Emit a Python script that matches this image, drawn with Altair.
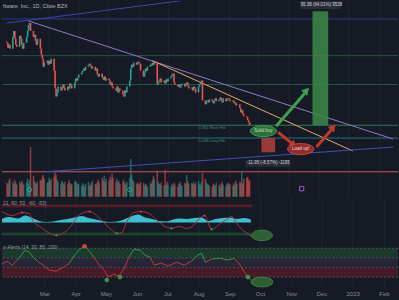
import altair as alt
import pandas as pd

# ---------------- data ----------------
TITLE = "ftware, Inc., 1D, Cboe BZX"
OSC_LABEL = "21, 60, 53, -60, -53)"
RSI_LABEL = "n-Alerts (14, 30, 80, 100)"

close_jan = [217.8, 213.7, 216.2, 212.9, 222.8, 227.8, 221.2, 216.2, 214.5, 223.7]
close_feb = [221.2, 216.2, 212.9, 217.8, 222.8, 227.8, 232.8, 234.4, 227.8, 222.8,
             224.5, 219.5, 216.2, 221.2, 212.9, 207.9, 204.6, 197.9, 201.2, 202.9]
close_mar = [199.6, 202.9, 200.4, 204.6, 194.6, 179.7, 173.0, 176.3, 181.3, 178.0,
             179.7, 183.0, 180.5, 178.0, 181.3, 179.7, 183.8, 182.2, 179.7, 184.7,
             188.0, 186.3, 188.8]
close_apr = [191.3, 192.9, 194.6, 196.3, 194.6, 197.9, 199.6, 200.4, 198.8, 196.3,
             197.9, 194.6, 196.3, 191.3, 189.6, 192.1, 188.8, 187.1, 189.6, 186.3, 188.0]
close_may = [186.3, 183.0, 184.7, 181.3, 179.7, 178.0, 181.3, 176.3, 179.7, 178.0,
             174.7, 173.0, 178.0, 176.3, 181.3, 186.3, 196.3, 199.6, 197.9, 201.2,
             199.6, 202.1]
close_jun = [201.2, 200.4, 194.6, 189.6, 192.9, 196.3, 194.6, 197.9, 199.6, 198.8,
             201.2, 199.6, 202.1, 183.0, 184.7, 186.3, 188.0, 184.7, 186.3, 183.8,
             187.1, 185.5]
close_jul = [188.0, 189.6, 191.3, 192.1, 184.7, 183.0, 181.3, 183.0, 180.5, 182.2,
             183.8, 181.3, 183.0, 184.7, 182.2, 179.7, 180.5, 178.0, 181.3, 179.7, 176.3]
close_aug = [181.3, 183.0, 184.7, 186.3, 169.7, 166.4, 168.9, 169.7, 168.0, 170.5,
             168.9, 167.2, 169.7, 171.4, 168.9, 170.5, 172.2, 169.7, 168.0, 171.4,
             168.9, 170.5, 171.4]
close_sep = [170.5, 168.9, 169.7, 167.2, 168.0, 165.6, 166.4, 163.1, 159.7, 161.4,
             158.1, 156.4, 155.6, 153.1, 151.4, 148.9]
first_open = 219.0

vol_jan = [1.4, 1.2, 1.6, 1.8, 1.5, 1.3, 1.7, 1.4, 1.2, 1.5]
vol_feb = [1.3, 1.6, 1.4, 1.2, 1.5, 1.8, 1.3, 1.7, 5.0, 2.1, 1.6, 1.4, 1.3, 1.5, 1.7,
           1.6, 2.0, 2.2, 1.8, 1.4]
vol_mar = [1.5, 1.9, 1.6, 1.8, 2.0, 2.4, 2.2, 1.7, 1.5, 1.3, 1.6, 1.4, 1.2, 1.5, 1.3,
           1.7, 1.4, 1.2, 1.3, 1.5, 1.6, 1.4, 1.2]
vol_apr = [1.3, 1.1, 1.4, 1.2, 1.0, 1.3, 1.5, 1.2, 1.1, 1.4, 1.6, 1.3, 1.2, 1.5, 1.7,
           1.4, 1.9, 1.6, 2.1, 1.5, 1.8]
vol_may = [1.6, 2.0, 1.7, 2.3, 1.9, 1.5, 1.8, 1.4, 1.6, 1.3, 1.5, 1.7, 1.4, 1.2, 1.5,
           1.9, 3.8, 2.2, 1.7, 1.5, 1.3, 1.4]
vol_jun = [1.3, 1.2, 1.5, 1.4, 1.1, 1.3, 1.2, 1.0, 1.4, 1.3, 1.6, 2.1, 1.8, 2.6, 1.5,
           1.3, 1.2, 1.4, 1.1, 2.7, 1.2, 1.5]
vol_jul = [1.2, 1.0, 1.3, 1.1, 1.4, 1.2, 1.0, 1.3, 1.5, 1.2, 1.1, 1.4, 1.3, 2.2, 1.6,
           1.3, 1.4, 1.3, 1.5, 1.2, 1.4]
vol_aug = [1.6, 1.3, 1.2, 1.5, 2.4, 1.8, 1.4, 1.3, 1.2, 1.1, 1.0, 1.3, 1.2, 1.1, 1.4,
           1.2, 1.0, 1.3, 1.5, 1.2, 1.1, 1.3, 1.4]
vol_sep = [1.2, 1.3, 1.1, 1.4, 1.2, 1.6, 1.3, 1.5, 1.4, 2.5, 1.3, 1.8, 1.9, 2.0, 1.6, 1.7]

level_prices = [237.8, 207.1, 183.0, 148.9, 138.2, 110.0]
level_colors = ["#2b3a8f", "#1f5a45", "#1f5a45", "#2a7d5c", "#1f7385", "#c85a5f"]

trend_start_dates = ["2022-01-18", "2022-02-09", "2022-06-15", "2022-02-26"]
trend_end_dates = ["2022-08-03", "2023-02-15", "2023-01-05", "2023-02-15"]
trend_start_prices = [234.4, 236.1, 202.9, 110.0]
trend_end_prices = [255.1, 137.4, 127.4, 130.7]
trend_colors = ["#3949ab", "#8e7cc3", "#e8a868", "#3f51b5"]

wave_dates = ["2022-01-18", "2022-01-28", "2022-02-07", "2022-02-14", "2022-02-18",
              "2022-02-26", "2022-03-06", "2022-03-13", "2022-03-21", "2022-03-28",
              "2022-04-03", "2022-04-09", "2022-04-15", "2022-04-22", "2022-04-29",
              "2022-05-06", "2022-05-12", "2022-05-17", "2022-05-22", "2022-05-29",
              "2022-06-05", "2022-06-13", "2022-06-20", "2022-06-27", "2022-07-05",
              "2022-07-13", "2022-07-20", "2022-07-27", "2022-08-02", "2022-08-07",
              "2022-08-14", "2022-08-24", "2022-08-29", "2022-09-03", "2022-09-08",
              "2022-09-13", "2022-09-20", "2022-09-23"]
wave_vals = [34, 18, 30, 26, -6, -30, -54, -62, -50, -22, 14, 30, 34, 18, -10, -38, -54,
             -50, -6, 30, 34, 26, 2, -22, -34, -26, -34, -22, 6, 18, -38, -10, 2, 14,
             -14, -38, -58, -70]

hist_dates = ["2022-01-18", "2022-01-25", "2022-02-03", "2022-02-10", "2022-02-17",
              "2022-02-24", "2022-03-03", "2022-03-10", "2022-03-17", "2022-03-24",
              "2022-03-31", "2022-04-07", "2022-04-14", "2022-04-21", "2022-04-28",
              "2022-05-05", "2022-05-12", "2022-05-19", "2022-05-26", "2022-06-02",
              "2022-06-09", "2022-06-16", "2022-06-23", "2022-06-30", "2022-07-07",
              "2022-07-14", "2022-07-21", "2022-07-28", "2022-08-04", "2022-08-11",
              "2022-08-18", "2022-08-25", "2022-09-01", "2022-09-08", "2022-09-15",
              "2022-09-22"]
hist_vals = [4, 12, 6, 18, 8, -4, -8, -6, 0, 4, 10, 16, 8, 2, -4, -8, -6, 2, 14, 22,
             10, 4, -4, -6, 2, 6, 4, 8, 10, -4, 4, 8, 10, 4, 8, 2]

rsi_dates = ["2022-01-18", "2022-01-23", "2022-01-28", "2022-02-02", "2022-02-07",
             "2022-02-10", "2022-02-14", "2022-02-18", "2022-02-22", "2022-02-28",
             "2022-03-06", "2022-03-13", "2022-03-20", "2022-03-26", "2022-03-31",
             "2022-04-05", "2022-04-10", "2022-04-15", "2022-04-19", "2022-04-24",
             "2022-04-30", "2022-05-04", "2022-05-09", "2022-05-14", "2022-05-19",
             "2022-05-24", "2022-05-29", "2022-06-04", "2022-06-09", "2022-06-14",
             "2022-06-18", "2022-06-25", "2022-07-02", "2022-07-10", "2022-07-18",
             "2022-07-25", "2022-07-31", "2022-08-04", "2022-08-08", "2022-08-14",
             "2022-08-22", "2022-08-30", "2022-09-05", "2022-09-10", "2022-09-15",
             "2022-09-20", "2022-09-25"]
rsi_vals = [46.9, 53.1, 44.8, 55.2, 67.6, 75.9, 71.7, 61.4, 53.1, 44.8, 34.5, 32.4,
            40.7, 49.0, 65.5, 77.9, 84.1, 73.8, 61.4, 46.9, 32.4, 20.0, 26.2, 22.1,
            36.6, 61.4, 77.9, 75.9, 65.5, 61.4, 44.8, 49.0, 42.8, 51.0, 44.8, 53.1,
            65.5, 69.7, 51.0, 57.2, 59.3, 55.2, 59.3, 49.0, 32.4, 17.9, 9.7]
rsi_levels = [80, 60, 40, 20]

month_starts = ["2022-03-01", "2022-04-01", "2022-05-01", "2022-06-01", "2022-07-01",
                "2022-08-01", "2022-09-01", "2022-10-01", "2022-11-01", "2022-12-01",
                "2023-01-01", "2023-02-01"]

# ---------------- styling ----------------
BG = "#161a25"
GRID = "#20242e"
UP = "#26a69a"
DOWN = "#ef5350"
TXT = "#9598a1"
FONT = "Liberation Sans"
W = 399
H_PRICE, H_OSC, H_RSI = 197, 46, 44


def ms(s):
    return int(pd.Timestamp(s, tz="UTC").value // 10**6)


X_START, X_END = "2022-01-18", "2023-02-15"
xs = alt.Scale(type="utc", domain=[ms(X_START), ms(X_END)], nice=False)
tick_vals = [ms(s) for s in month_starts]
grid_axis = alt.Axis(values=tick_vals, labels=False, ticks=False, domain=False,
                     grid=True, gridColor=GRID, title=None)
rsi_axis = alt.Axis(values=tick_vals, ticks=False, domain=False, grid=True, gridColor=GRID,
                    title=None, labelColor="#868993", labelFontSize=6, labelFont=FONT,
                    labelPadding=5, labelOverlap=False, labelFlush=False,
                    labelExpr="utcFormat(datum.value, '%m') == '01' ? utcFormat(datum.value, '%Y') : utcFormat(datum.value, '%b')")
ps = alt.Scale(domain=[89.2, 252.7], nice=False, zero=False)
vs = alt.Scale(domain=[0, 19.7], nice=False)
os_ = alt.Scale(domain=[-90, 94], nice=False, zero=False)
rs = alt.Scale(domain=[1.4, 92.4], nice=False, zero=False)

# ---------------- tables ----------------
dates = pd.bdate_range("2022-01-18", "2022-09-22").strftime("%Y-%m-%d").tolist()
closes = (close_jan + close_feb + close_mar + close_apr + close_may + close_jun +
          close_jul + close_aug + close_sep)
vols = vol_jan + vol_feb + vol_mar + vol_apr + vol_may + vol_jun + vol_jul + vol_aug + vol_sep
assert len(dates) == len(closes) == len(vols)
opens = [first_open] + closes[:-1]
candles = pd.DataFrame({"date": dates, "open": opens, "close": closes, "vol": vols})
candles["dir"] = ["up" if c >= o else "down" for o, c in zip(opens, closes)]
dir_color = alt.Color("dir:N", scale=alt.Scale(domain=["up", "down"], range=[UP, DOWN]),
                      legend=None)


def X(f="date", ax=grid_axis):
    return alt.X(f"{f}:T", scale=xs, axis=ax)


# ---------------- price panel ----------------
levels = alt.Chart(pd.DataFrame({"p": level_prices, "c": level_colors})).mark_rule(
    strokeWidth=1).encode(y=alt.Y("p:Q", scale=ps, axis=None),
                          stroke=alt.Stroke("c:N", scale=None))

trends = alt.Chart(pd.DataFrame({"d1": trend_start_dates, "d2": trend_end_dates,
                                 "p1": trend_start_prices, "p2": trend_end_prices,
                                 "c": trend_colors})).mark_rule(strokeWidth=1, clip=True).encode(
    x=X("d1"), x2="d2:T", y=alt.Y("p1:Q", scale=ps, axis=None), y2="p2:Q",
    stroke=alt.Stroke("c:N", scale=None))

bodies = alt.Chart(candles).mark_bar(width=1.6).encode(
    x=X(), y=alt.Y("open:Q", scale=ps, axis=None), y2="close:Q", color=dir_color)

boxes = alt.Chart(pd.DataFrame({
    "d1": ["2022-11-25", "2022-10-04", "2022-11-13", "2022-09-18"],
    "d2": ["2022-12-11", "2022-10-18", "2022-12-24", "2022-11-02"],
    "p1": [148.9, 138.2, 252.7, 119.9],
    "p2": [244.3, 126.25, 246.1, 114.1],
    "c": ["#3b8a46", "#b0413e", "#2a2e39", "#2a2e39"],
    "o": [0.85, 0.85, 0.95, 0.95]})).mark_rect().encode(
    x=X("d1"), x2="d2:T", y=alt.Y("p1:Q", scale=ps, axis=None), y2="p2:Q",
    fill=alt.Fill("c:N", scale=None), opacity=alt.Opacity("o:Q", scale=None))

ELL = "M-1,0A1,0.42,0,1,0,1,0A1,0.42,0,1,0,-1,0Z"
ellipses = alt.Chart(pd.DataFrame({
    "d": ["2022-10-06", "2022-11-13"], "p": [144.0, 129.0],
    "f": ["#2f6e3a", "#8e2b2b"], "s": ["#4caf50", "#d9534f"]})).mark_point(
    shape=ELL, size=700, filled=True, strokeWidth=0.8, opacity=1).encode(
    x=X("d"), y=alt.Y("p:Q", scale=ps, axis=None),
    fill=alt.Fill("f:N", scale=None), stroke=alt.Stroke("s:N", scale=None))

arrows = alt.Chart(pd.DataFrame({
    "d1": ["2022-10-19", "2022-10-21", "2022-11-29"],
    "d2": ["2022-11-17", "2022-11-04", "2022-12-14"],
    "p1": [148.1, 143.1, 130.7], "p2": [175.5, 133.8, 145.0],
    "c": ["#3f9f4c", "#c0392b", "#c0392b"]})).mark_rule(strokeWidth=3).encode(
    x=X("d1"), x2="d2:T", y=alt.Y("p1:Q", scale=ps, axis=None), y2="p2:Q",
    stroke=alt.Stroke("c:N", scale=None))

heads = alt.Chart(pd.DataFrame({
    "d": ["2022-11-19", "2022-11-06", "2022-12-16"], "p": [178.0, 132.4, 147.3],
    "a": [42, 129, 40], "c": ["#3f9f4c", "#c0392b", "#c0392b"]})).mark_point(
    shape="triangle-up", size=70, filled=True, opacity=1).encode(
    x=X("d"), y=alt.Y("p:Q", scale=ps, axis=None), angle=alt.Angle("a:Q", scale=None),
    fill=alt.Fill("c:N", scale=None), stroke=alt.value(None))

labels = alt.Chart(pd.DataFrame({
    "d": ["2022-12-04", "2022-10-11", "2022-10-06", "2022-11-13"],
    "p": [249.4, 117.0, 144.0, 129.0],
    "t": ["95.38 (64.01%) 9538", "-11.95 (-8.57%) -1195", "Solid buy", "Load up!"],
    "c": ["#d1d4dc", "#d1d4dc", "#b9e4bc", "#ffd6d6"]})).mark_text(
    fontSize=4.5, font=FONT, align="center", baseline="middle").encode(
    x=X("d"), y=alt.Y("p:Q", scale=ps, axis=None), text="t:N",
    fill=alt.Fill("c:N", scale=None))

fib_labels = alt.Chart(pd.DataFrame({
    "d": ["2022-08-01", "2022-08-01"], "p": [146.3, 135.6],
    "t": ["0.382 Short Fib", "0.236 Long Fib"]})).mark_text(
    fontSize=4, font=FONT, align="left", baseline="middle", color="#3f8a80").encode(
    x=X("d"), y=alt.Y("p:Q", scale=ps, axis=None), text="t:N")

title = alt.Chart(pd.DataFrame({"t": [TITLE]})).mark_text(
    fontSize=5.5, font=FONT, align="left", baseline="middle", color="#b2b5be").encode(
    x=alt.value(1), y=alt.value(5), text="t:N")

vol_bars = alt.Chart(candles).mark_bar(width=1.5, opacity=0.55).encode(
    x=X(), y=alt.Y("vol:Q", scale=vs, axis=None), color=dir_color)

vol_marks = alt.Chart(pd.DataFrame({
    "d": ["2022-02-10", "2022-05-23", "2022-11-14"], "v": [0.7, 0.7, 0.8],
    "s": ["circle", "circle", "square"], "c": ["#26a69a", "#26a69a", "#9c5fc9"]})).mark_point(
    size=18, filled=False, strokeWidth=1, opacity=1).encode(
    x=X("d"), y=alt.Y("v:Q", scale=vs, axis=None), shape=alt.Shape("s:N", scale=None),
    stroke=alt.Stroke("c:N", scale=None))

price_group = alt.layer(levels, trends, bodies, boxes, arrows, heads,
                        ellipses, labels, fib_labels, title)
vol_group = alt.layer(vol_bars, vol_marks)
price_panel = alt.layer(vol_group, price_group).resolve_scale(y="independent").properties(
    width=W, height=H_PRICE)

# ---------------- oscillator panel ----------------
osc_bands = alt.Chart(pd.DataFrame({
    "d1": [X_START, X_START], "d2": ["2022-09-23", "2022-09-23"],
    "v1": [53, -53], "v2": [60, -60], "c": ["#5c1f28", "#1d4a30"]})).mark_rect(
    strokeWidth=1).encode(
    x=X("d1"), x2="d2:T", y=alt.Y("v1:Q", scale=os_, axis=None), y2="v2:Q",
    fill=alt.Fill("c:N", scale=None), stroke=alt.Stroke("c:N", scale=None))
hist = alt.Chart(pd.DataFrame({"d": hist_dates, "v": hist_vals})).mark_area(
    color="#3fc8d8", interpolate="monotone", opacity=0.95).encode(
    x=X("d"), y=alt.Y("v:Q", scale=os_, axis=None), y2=alt.datum(-10))
wave = alt.Chart(pd.DataFrame({"d": wave_dates, "v": wave_vals})).mark_line(
    color="#a8323a", strokeWidth=1, interpolate="monotone").encode(
    x=X("d"), y=alt.Y("v:Q", scale=os_, axis=None))
wave_dots = alt.Chart(pd.DataFrame({
    "d": ["2022-02-07", "2022-03-13", "2022-04-15", "2022-05-12", "2022-06-05",
          "2022-07-05", "2022-08-07", "2022-08-14"],
    "v": [30, -62, 34, -54, 34, -34, 18, -38],
    "c": ["#d04040", "#3f9f4c", "#d04040", "#3f9f4c", "#d04040", "#3f9f4c", "#d04040",
          "#3f9f4c"]})).mark_point(size=5, filled=True, opacity=1).encode(
    x=X("d"), y=alt.Y("v:Q", scale=os_, axis=None), fill=alt.Fill("c:N", scale=None))
osc_ell = alt.Chart(pd.DataFrame({"d": ["2022-10-03"], "v": [-62]})).mark_point(
    shape="M-1,0A1,0.5,0,1,0,1,0A1,0.5,0,1,0,-1,0Z", size=440, filled=True,
    color="#2e5e34", stroke="#3f8f4a", strokeWidth=0.8, opacity=1).encode(
    x=X("d"), y=alt.Y("v:Q", scale=os_, axis=None))
osc_text = alt.Chart(pd.DataFrame({"t": [OSC_LABEL]})).mark_text(
    fontSize=5, font=FONT, align="left", baseline="middle", color=TXT).encode(
    x=alt.value(1), y=alt.value(6), text="t:N")
osc_panel = alt.layer(osc_bands, hist, wave, wave_dots, osc_ell,
                      osc_text).properties(width=W, height=H_OSC)

# ---------------- RSI panel ----------------
rsi_bands = alt.Chart(pd.DataFrame({
    "d1": [X_START] * 3, "d2": [X_END] * 3, "v1": [60, 40, 20], "v2": [80, 60, 40],
    "c": ["#1b3a2c", "#252737", "#461b27"]})).mark_rect().encode(
    x=X("d1", rsi_axis), x2="d2:T", y=alt.Y("v1:Q", scale=rs, axis=None), y2="v2:Q",
    fill=alt.Fill("c:N", scale=None))
rsi_lines = alt.Chart(pd.DataFrame({"v": rsi_levels})).mark_rule(
    color="#5d606b", strokeDash=[2, 2], strokeWidth=0.8).encode(
    y=alt.Y("v:Q", scale=rs, axis=None))
seg = pd.DataFrame({"d1": rsi_dates[:-1], "d2": rsi_dates[1:],
                    "v1": rsi_vals[:-1], "v2": rsi_vals[1:]})
seg["c"] = ["#3f9f4c" if (a + b) / 2 >= 55 else "#d9363e" for a, b in zip(seg.v1, seg.v2)]
rsi_line = alt.Chart(seg).mark_rule(strokeWidth=0.9).encode(
    x=X("d1", rsi_axis), x2="d2:T", y=alt.Y("v1:Q", scale=rs, axis=None), y2="v2:Q",
    stroke=alt.Stroke("c:N", scale=None))
rsi_dots = alt.Chart(pd.DataFrame({
    "d": ["2022-04-10", "2022-05-02", "2022-05-15", "2022-09-19"],
    "v": [84.1, 13.8, 20.0, 20.0],
    "c": ["#e04848", "#3f9f4c", "#3f9f4c", "#3f9f4c"]})).mark_point(
    size=22, filled=True, opacity=0.9).encode(
    x=X("d", rsi_axis), y=alt.Y("v:Q", scale=rs, axis=None), fill=alt.Fill("c:N", scale=None))
rsi_ell = alt.Chart(pd.DataFrame({"d": ["2022-10-03"], "v": [9.7]})).mark_point(
    shape="M-1,0A1,0.45,0,1,0,1,0A1,0.45,0,1,0,-1,0Z", size=480, filled=True,
    color="#2e5e34", stroke="#3f8f4a", strokeWidth=0.8, opacity=1).encode(
    x=X("d", rsi_axis), y=alt.Y("v:Q", scale=rs, axis=None))
rsi_text = alt.Chart(pd.DataFrame({"t": [RSI_LABEL]})).mark_text(
    fontSize=5, font=FONT, align="left", baseline="middle", color=TXT).encode(
    x=alt.value(1), y=alt.value(5), text="t:N")
rsi_panel = alt.layer(rsi_bands, rsi_lines, rsi_line, rsi_dots,
                      rsi_ell, rsi_text).properties(width=W, height=H_RSI)

chart = alt.vconcat(price_panel, osc_panel, rsi_panel, spacing=0).properties(
    padding={"left": 0, "right": 0, "top": 0, "bottom": 2}, background=BG
).configure_view(stroke=None).configure_concat(spacing=0)

chart.save("out.html", embed_options={"renderer": "svg", "actions": False})
